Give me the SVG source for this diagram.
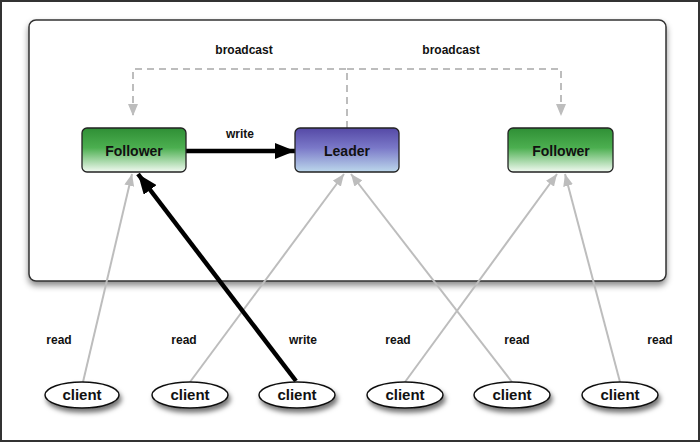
<svg xmlns="http://www.w3.org/2000/svg" width="700" height="442" viewBox="0 0 700 442">
<style>
.lbl{font-family:"Liberation Sans",Arial,sans-serif;font-weight:bold;font-size:12px;fill:#111;text-anchor:middle}
.node{font-family:"Liberation Sans",Arial,sans-serif;font-weight:bold;font-size:14px;fill:#111;text-anchor:middle}
.ctext{font-family:"Liberation Sans",Arial,sans-serif;font-weight:bold;font-size:15px;fill:#111;text-anchor:middle}
.box{stroke:#222;stroke-width:1.3}
.gray{stroke:#bdbdbd;stroke-width:2;fill:none}
.dash{stroke:#bdbdbd;stroke-width:2;fill:none;stroke-dasharray:7 5}
.blk{stroke:#000;stroke-width:4.5;fill:none}
.cli{fill:#fff;stroke:#111;stroke-width:1.5}
</style>
<defs>
<linearGradient id="gF" x1="0" y1="0" x2="0" y2="1">
<stop offset="0" stop-color="#2f8f35"/>
<stop offset="0.45" stop-color="#4caf50"/>
<stop offset="1" stop-color="#f2faf2"/>
</linearGradient>
<linearGradient id="gL" x1="0" y1="0" x2="0" y2="1">
<stop offset="0" stop-color="#5549a6"/>
<stop offset="0.45" stop-color="#7a78c8"/>
<stop offset="1" stop-color="#bcd8ec"/>
</linearGradient>
<filter id="sh" x="-20%" y="-20%" width="150%" height="170%">
<feDropShadow dx="2" dy="4" stdDeviation="2.5" flood-color="#000" flood-opacity="0.55"/>
</filter>
<filter id="shb" x="-5%" y="-5%" width="110%" height="115%">
<feDropShadow dx="0" dy="4" stdDeviation="3" flood-color="#000" flood-opacity="0.45"/>
</filter>
<marker id="ag" markerWidth="12" markerHeight="10" refX="12" refY="5" orient="auto" markerUnits="userSpaceOnUse">
<path d="M0,0 L12,5 L0,10 Z" fill="#bdbdbd"/>
</marker>
<marker id="ab" markerWidth="20" markerHeight="16" refX="20" refY="8" orient="auto" markerUnits="userSpaceOnUse">
<path d="M0,0 L20,8 L0,16 Z" fill="#000"/>
</marker>
</defs>
<rect x="0" y="0" width="700" height="442" fill="#fff"/>
<rect x="1" y="1" width="698" height="440" fill="none" stroke="#333" stroke-width="2"/>
<rect id="cluster" x="29" y="20" width="637" height="261" rx="7" fill="#fff" stroke="#333" stroke-width="1.5" filter="url(#shb)"/>

<g id="connectors">
<path class="dash" d="M347,128 V69 H133 V116" marker-end="url(#ag)"/>
<path class="dash" d="M347,69 H561 V116" marker-end="url(#ag)"/>
<line class="gray" x1="83" y1="382" x2="132" y2="174" marker-end="url(#ag)"/>
<line class="gray" x1="190" y1="382" x2="344" y2="174" marker-end="url(#ag)"/>
<line class="gray" x1="512" y1="382" x2="351" y2="174" marker-end="url(#ag)"/>
<line class="gray" x1="405" y1="382" x2="557" y2="174" marker-end="url(#ag)"/>
<line class="gray" x1="620" y1="382" x2="565" y2="174" marker-end="url(#ag)"/>
<line class="blk" x1="296" y1="381" x2="138" y2="174" marker-end="url(#ab)"/>
<line class="blk" x1="186" y1="151" x2="295" y2="151" marker-end="url(#ab)"/>
<text class="lbl" x="244" y="54">broadcast</text>
<text class="lbl" x="451" y="54">broadcast</text>
<text class="lbl" x="240" y="138">write</text>
<text class="lbl" x="59" y="344">read</text>
<text class="lbl" x="184" y="344">read</text>
<text class="lbl" x="303" y="344">write</text>
<text class="lbl" x="398" y="344">read</text>
<text class="lbl" x="517" y="344">read</text>
<text class="lbl" x="660" y="344">read</text>
</g>

<g id="follower1">
<rect class="box" x="82" y="128" width="104" height="44" rx="5" fill="url(#gF)"/>
<text class="node" x="134" y="156">Follower</text>
</g>
<g id="leader">
<rect class="box" x="295" y="128" width="104" height="44" rx="5" fill="url(#gL)"/>
<text class="node" x="347" y="156">Leader</text>
</g>
<g id="follower2">
<rect class="box" x="508" y="128" width="105" height="44" rx="5" fill="url(#gF)"/>
<text class="node" x="561" y="156">Follower</text>
</g>

<g id="client1"><ellipse class="cli" cx="82" cy="395" rx="37" ry="13" filter="url(#sh)"/><text class="ctext" x="82" y="400">client</text></g>
<g id="client2"><ellipse class="cli" cx="190" cy="395" rx="38" ry="13" filter="url(#sh)"/><text class="ctext" x="190" y="400">client</text></g>
<g id="client3"><ellipse class="cli" cx="297" cy="395" rx="38" ry="13" filter="url(#sh)"/><text class="ctext" x="297" y="400">client</text></g>
<g id="client4"><ellipse class="cli" cx="405" cy="395" rx="38" ry="13" filter="url(#sh)"/><text class="ctext" x="405" y="400">client</text></g>
<g id="client5"><ellipse class="cli" cx="512" cy="395" rx="38" ry="13" filter="url(#sh)"/><text class="ctext" x="512" y="400">client</text></g>
<g id="client6"><ellipse class="cli" cx="620" cy="395" rx="38" ry="13" filter="url(#sh)"/><text class="ctext" x="620" y="400">client</text></g>
</svg>
